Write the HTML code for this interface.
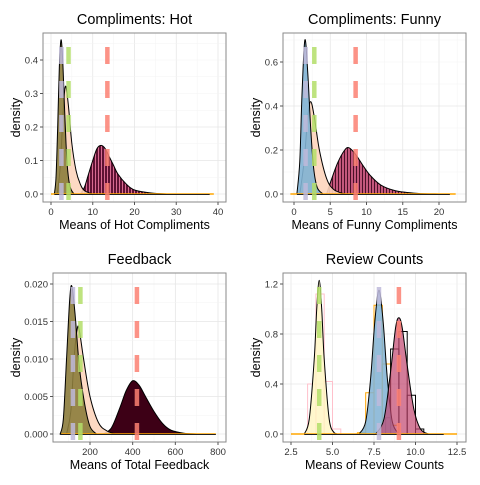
<!DOCTYPE html>
<html><head><meta charset="utf-8">
<style>
body{margin:0;background:#fff;}
svg text{font-family:"Liberation Sans",sans-serif;}
</style></head>
<body>
<svg id="chart" width="480" height="480" viewBox="0 0 480 480" xmlns="http://www.w3.org/2000/svg">
<defs>
<pattern id="stripesHot" width="3" height="10" patternUnits="userSpaceOnUse"><rect width="3" height="10" fill="#5e1233"/><rect x="2" width="1" height="10" fill="#d86a91"/></pattern>
<pattern id="stripesFunny" width="3" height="10" patternUnits="userSpaceOnUse"><rect width="3" height="10" fill="#c4577c"/><rect x="2" width="1" height="10" fill="#4a1027"/></pattern>
</defs>
</svg>
<script>
// Panel 1: Compliments: Hot
const hotX1=[0.8,1.2,1.6,2.0,2.4,2.8,3.2,3.6,4.0,4.6,5.5];
const hotY1=[0,0.05,0.2,0.38,0.46,0.4,0.27,0.15,0.07,0.02,0];
const hotX2=[1.5,2.2,2.8,3.2,3.6,4.2,5,6,7,8,10];
const hotY2=[0,0.08,0.22,0.30,0.32,0.26,0.15,0.07,0.03,0.01,0];
const hotX3=[7,8,9,10,11,12,13,14,15,16,18,20,24,28];
const hotY3=[0,0.02,0.06,0.1,0.135,0.145,0.135,0.11,0.085,0.06,0.03,0.012,0.003,0];
const hotMeans=[2.5,4.2,13.5];
// Panel 2: Compliments: Funny
const funX1=[0.4,0.8,1.1,1.5,1.9,2.3,2.7,3.2,4];
const funY1=[0,0.15,0.45,0.7,0.55,0.3,0.12,0.03,0];
const funX2=[0.8,1.4,1.9,2.3,2.8,3.5,4.5,5.5,7];
const funY2=[0,0.15,0.35,0.42,0.35,0.2,0.07,0.02,0];
const funX3=[4.5,5,6,7,7.6,8.5,9.5,10.5,12,14,17,20];
const funY3=[0,0.05,0.14,0.2,0.21,0.18,0.13,0.085,0.04,0.015,0.003,0];
const funMeans=[1.6,2.8,8.5];
// Panel 3: Feedback
const fbX1=[60,75,90,105,115,130,150,175,200,230];
const fbY1=[0,0.002,0.01,0.018,0.0197,0.016,0.009,0.004,0.001,0];
const fbX2=[90,110,125,140,150,170,200,240,280,320];
const fbY2=[0,0.003,0.01,0.014,0.0138,0.01,0.005,0.0015,0.0004,0];
const fbX3=[260,300,340,370,400,430,460,500,540,580,640,700];
const fbY3=[0,0.0008,0.0035,0.0058,0.0071,0.0065,0.005,0.003,0.0014,0.0005,0.0001,0];
const fbMeans=[120,155,420];
// Panel 4: Review Counts
const rcX1=[3.3,3.6,3.9,4.05,4.2,4.35,4.5,4.8,5.1,5.3];
const rcY1=[0,0.12,0.6,1.0,1.23,1.0,0.6,0.12,0.01,0];
const rcX2=[6.6,7.0,7.3,7.55,7.8,8.05,8.3,8.6,9.0];
const rcY2=[0,0.1,0.45,0.9,1.15,0.9,0.45,0.1,0];
const rcX3=[7.6,8.1,8.5,8.8,9.0,9.2,9.5,9.9,10.3,10.8];
const rcY3=[0,0.12,0.5,0.85,0.93,0.85,0.55,0.2,0.04,0];
const rcBinsPink=[3.5,4.0,4.5,5.0];
const rcHPink=[0.4,1.12,0.42,0.04];
const rcBinsOrange=[6.5,7.0,7.5,8.0,8.5];
const rcHOrange=[0.01,0.33,1.03,0.56,0.07];
const rcBinsBlack=[8.2,8.5,9.0,9.5,10.0];
const rcWBlack=[0.3,0.5,0.5,0.5,0.5];
const rcHBlack=[0.13,0.68,0.82,0.31,0.04];
const rcMeans=[4.2,7.8,9.0];

const NS="http://www.w3.org/2000/svg";
const svg=document.getElementById('chart');
function mk(tag,attrs,parent){const e=document.createElementNS(NS,tag);for(const k in attrs)e.setAttribute(k,attrs[k]);(parent||svg).appendChild(e);return e;}
function smooth(pts){let d="M"+pts[0][0]+","+pts[0][1];for(let i=0;i<pts.length-1;i++){const p0=pts[Math.max(0,i-1)],p1=pts[i],p2=pts[i+1],p3=pts[Math.min(pts.length-1,i+2)];const c1=[p1[0]+(p2[0]-p0[0])/6,p1[1]+(p2[1]-p0[1])/6],c2=[p2[0]-(p3[0]-p1[0])/6,p2[1]-(p3[1]-p1[1])/6];d+=` C${c1[0]},${Math.min(c1[1],p1[1]>p2[1]?p1[1]:p2[1]+0)} ${c2[0]},${c2[1]} ${p2[0]},${p2[1]}`;}return d;}

function panel(cfg){
  const g=mk('g',{});
  
  
  const L=cfg.L,R=cfg.R,T=cfg.T,B=cfg.B;
  const sx=v=>cfg.px0+(v-cfg.x0)*(cfg.px1-cfg.px0)/(cfg.x1-cfg.x0);
  const sy=v=>cfg.py0+(v-cfg.y0)*(cfg.py1-cfg.py0)/(cfg.y1-cfg.y0);
  mk('rect',{x:L,y:T,width:R-L,height:B-T,fill:'#fff'},g);
  const grid=mk('g',{},g);
  
  
  const xs=cfg.xt, ys=cfg.yt;
  const xstep=xs[1]-xs[0], ystep=ys[1]-ys[0];
  for(let v=xs[0]-xstep/2;sx(v)<R;v+=xstep/2){const X=sx(v);if(X>L)mk('line',{x1:X,x2:X,y1:T,y2:B,stroke:Math.abs(((v-xs[0])/xstep)%1)<1e-6?'#e6e6e6':'#f3f3f3','stroke-width':Math.abs(((v-xs[0])/xstep)%1)<1e-6?0.8:0.5},grid);}
  for(let v=ys[0]-ystep/2;sy(v)>T;v+=ystep/2){const Y=sy(v);if(Y<B)mk('line',{x1:L,x2:R,y1:Y,y2:Y,stroke:Math.abs(((v-ys[0])/ystep)%1)<1e-6?'#e6e6e6':'#f3f3f3','stroke-width':Math.abs(((v-ys[0])/ystep)%1)<1e-6?0.8:0.5},grid);}
  // histograms
  (cfg.hists||[]).forEach(h=>{
    h.bins.forEach((b,i)=>{
      const w=h.w?h.w[i]:h.bw;
      const r=mk('rect',{x:sx(b),y:sy(h.h[i]),width:sx(b+w)-sx(b),height:sy(0)-sy(h.h[i]),fill:h.fill,stroke:h.stroke,'stroke-width':1},g);
      
      
    });
  });
  // densities
  cfg.curves.forEach(c=>{
    const pts=c.x.map((v,i)=>[sx(v),sy(c.y[i])]);
    const d=smooth(pts);
    const p=mk('path',{d:d+` L${pts[pts.length-1][0]},${sy(0)} L${pts[0][0]},${sy(0)} Z`,fill:c.fill,'fill-opacity':c.op||1,stroke:'#000','stroke-width':1},g);
    
    
  });
  // baselines
  const bl=mk('line',{x1:sx(cfg.base[0]),x2:sx(cfg.base[1]),y1:sy(0),y2:sy(0),stroke:'#ffa500','stroke-width':1.5},g);
  
  
  const bl2=mk('line',{x1:sx(cfg.base2[0]),x2:sx(cfg.base2[1]),y1:sy(0)+0.5,y2:sy(0)+0.5,stroke:'#222','stroke-width':1},g);
  
  
  // mean lines
  const cols=cfg.meanCols;
  cfg.means.forEach((m,i)=>{
    const l=mk('line',{x1:sx(m),x2:sx(m),y1:T+14,y2:B,stroke:cols[i],'stroke-width':4.5,'stroke-dasharray':'17,17','stroke-opacity':0.85},g);
    
    
  });
  mk('rect',{x:L,y:T,width:R-L,height:B-T,fill:'none',stroke:'#8a8a8a','stroke-width':1},g);
  // ticks
  xs.forEach((v,i)=>{const X=sx(v);mk('line',{x1:X,x2:X,y1:B,y2:B+3,stroke:'#555'},g);
    const t=mk('text',{x:X,y:B+13,'font-size':9.5,'text-anchor':'middle',fill:'#333'},g);t.textContent=cfg.xl[i];
    
    });
  ys.forEach((v,i)=>{const Y=sy(v);mk('line',{x1:L-3,x2:L,y1:Y,y2:Y,stroke:'#555'},g);
    const t=mk('text',{x:L-5,y:Y+3.5,'font-size':9.5,'text-anchor':'end',fill:'#333'},g);t.textContent=cfg.yl[i];
    
    });
  const tt=mk('text',{x:(L+R)/2,y:T-9,'font-size':14.5,'text-anchor':'middle',fill:'#000'},g);tt.textContent=cfg.title;
  
  
  const xt=mk('text',{x:(L+R)/2,y:B+27,'font-size':12.5,'text-anchor':'middle',fill:'#000'},g);xt.textContent=cfg.xtitle;
  
  
  const yc=(T+B)/2;
  const yt=mk('text',{x:cfg.ox+20,y:yc,'font-size':12.5,'text-anchor':'middle',fill:'#000',transform:`rotate(-90 ${cfg.ox+20} ${yc})`},g);yt.textContent='density';
  
  
}
const meanCols=['#bebada','#b3de69','#fb8072'];
panel({name:'panel-hot',ox:0,title:'Compliments: Hot',xtitle:'Means of Hot Compliments',L:43,R:226,T:33,B:202,
  x0:0,x1:40,px0:51,px1:218,y0:0,y1:0.4,py0:194,py1:60,
  xt:[0,10,20,30,40],xl:['0','10','20','30','40'],yt:[0,0.1,0.2,0.3,0.4],yl:['0.0','0.1','0.2','0.3','0.4'],
  curves:[{x:hotX3,y:hotY3,fill:'url(#stripesHot)',name:'density-hot-3'},{x:hotX2,y:hotY2,fill:'#fdd5bd',op:0.9,name:'density-hot-2'},{x:hotX1,y:hotY1,fill:'#8c7c3c',op:0.9,name:'density-hot-1'}],
  base:[0,39],base2:[0.8,38],means:[hotMeans[0],hotMeans[1],hotMeans[2]],meanCols});
panel({name:'panel-funny',ox:240,title:'Compliments: Funny',xtitle:'Means of Funny Compliments',L:283,R:466,T:33,B:202,
  x0:0,x1:20,px0:294,px1:439,y0:0,y1:0.6,py0:194,py1:62,
  xt:[0,5,10,15,20],xl:['0','5','10','15','20'],yt:[0,0.2,0.4,0.6],yl:['0.0','0.2','0.4','0.6'],
  curves:[{x:funX3,y:funY3,fill:'url(#stripesFunny)',name:'density-funny-3'},{x:funX2,y:funY2,fill:'#fdd5bd',op:0.9,name:'density-funny-2'},{x:funX1,y:funY1,fill:'#80b1d3',op:0.9,name:'density-funny-1'}],
  base:[-0.5,22.3],base2:[0.4,21.5],means:funMeans,meanCols});
panel({name:'panel-feedback',ox:0,title:'Feedback',xtitle:'Means of Total Feedback',L:53,R:226,T:273,B:442,
  x0:200,x1:800,px0:90,px1:218,y0:0,y1:0.02,py0:434,py1:284,
  xt:[200,400,600,800],xl:['200','400','600','800'],yt:[0,0.005,0.01,0.015,0.02],yl:['0.000','0.005','0.010','0.015','0.020'],
  curves:[{x:fbX3,y:fbY3,fill:'#3d0016',name:'density-feedback-3'},{x:fbX2,y:fbY2,fill:'#fdd5bd',op:0.9,name:'density-feedback-2'},{x:fbX1,y:fbY1,fill:'#8c7c3c',op:0.9,name:'density-feedback-1'}],
  base:[65,790],base2:[60,790],means:fbMeans,meanCols});
panel({name:'panel-review-counts',ox:240,title:'Review Counts',xtitle:'Means of Review Counts',L:283,R:466,T:273,B:442,
  x0:2.5,x1:12.5,px0:291,px1:457,y0:0,y1:1.2,py0:434,py1:284,
  xt:[2.5,5,7.5,10,12.5],xl:['2.5','5.0','7.5','10.0','12.5'],yt:[0,0.4,0.8,1.2],yl:['0.0','0.4','0.8','1.2'],
  hists:[{bins:rcBinsPink,h:rcHPink,bw:0.5,fill:'none',stroke:'#ffc0cb'},{bins:rcBinsOrange,h:rcHOrange,bw:0.5,fill:'none',stroke:'#ffa500'},{bins:rcBinsBlack,h:rcHBlack,w:rcWBlack,fill:'none',stroke:'#000'}],
  curves:[{x:rcX1,y:rcY1,fill:'#fff5c0',op:0.8,name:'density-review-1'},{x:rcX2,y:rcY2,fill:'#80b1d3',op:0.85,name:'density-review-2'},{x:rcX3,y:rcY3,fill:'#c0446e',op:0.7,name:'density-review-3'}],
  base:[2.5,12.5],base2:[3.3,11.7],means:[rcMeans[1],rcMeans[0],rcMeans[2]],meanCols});
</script>
</body></html>
